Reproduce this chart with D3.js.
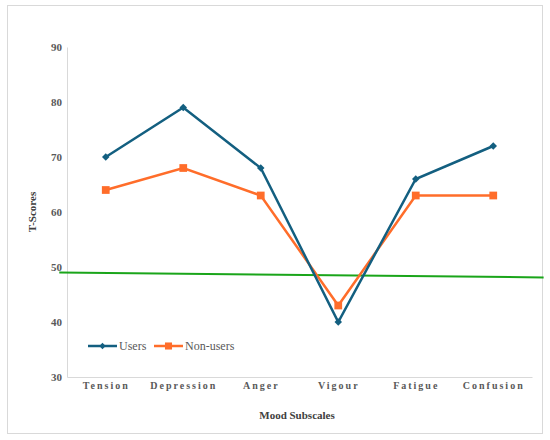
<!DOCTYPE html>
<html>
<head>
<meta charset="utf-8">
<script src="https://cdn.jsdelivr.net/npm/d3@7"></script>
<style>
  body { margin: 0; background: #fff; }
  svg text { font-family: "Liberation Serif", "DejaVu Serif", serif; }
</style>
</head>
<body>
<div id="chart"></div>
<script>
// data
const categories = ["Tension", "Depression", "Anger", "Vigour", "Fatigue", "Confusion"];
const users = [70, 79, 68, 40, 66, 72];
const nonUsers = [64, 68, 63, 43, 63, 63];
const yTicks = [30, 40, 50, 60, 70, 80, 90];
// green reference line: category index position -> T-score
const refPos = [-0.6, 5.65];
const refVal = [49.0, 48.1];

const W = 550, H = 440;
const margin = { top: 47, right: 18, bottom: 63, left: 67 };
const serif = "'Liberation Serif', 'DejaVu Serif', serif";

const svg = d3.select("#chart")
  .append("svg")
  .attr("width", W)
  .attr("height", H);

// outer frame
svg.append("rect")
  .attr("x", 7.5).attr("y", 5.5)
  .attr("width", 535).attr("height", 428)
  .attr("fill", "#fff")
  .attr("stroke", "#d9d9d9");

const x = d3.scalePoint()
  .domain(categories)
  .range([margin.left, W - margin.right])
  .padding(0.5);

const xi = d3.scaleLinear()
  .domain([0, categories.length - 1])
  .range([x(categories[0]), x(categories[categories.length - 1])]);

const y = d3.scaleLinear()
  .domain([30, 90])
  .range([H - margin.bottom, margin.top]);

// axes
const yAxis = svg.append("g")
  .attr("transform", `translate(${margin.left},0)`)
  .attr("font-family", serif)
  .call(d3.axisLeft(y).tickValues(yTicks).tickSize(0).tickPadding(5));
yAxis.attr("font-family", serif);
yAxis.select(".domain").attr("stroke", "#d9d9d9");
yAxis.selectAll("text")
  .attr("fill", "#595959")
  .style("font-size", "11px")
  .style("font-weight", "bold");

const xAxis = svg.append("g")
  .attr("transform", `translate(0,${H - margin.bottom})`)
  .call(d3.axisBottom(x).tickSize(0).tickPadding(5));
xAxis.attr("font-family", serif);
xAxis.select(".domain").attr("stroke", "#d9d9d9");
xAxis.selectAll("text")
  .attr("fill", "#595959")
  .style("font-size", "10px")
  .style("font-weight", "bold")
  .style("letter-spacing", "2px");

// axis titles
svg.append("text")
  .attr("x", 297)
  .attr("y", 419)
  .attr("text-anchor", "middle")
  .attr("font-family", serif)
  .attr("fill", "#404040")
  .style("font-size", "11px")
  .style("font-weight", "bold")
  .text("Mood Subscales");

svg.append("text")
  .attr("transform", `translate(36,${y(60)}) rotate(-90)`)
  .attr("text-anchor", "middle")
  .attr("font-family", serif)
  .attr("fill", "#404040")
  .style("font-size", "11px")
  .style("font-weight", "bold")
  .text("T-Scores");

// reference line
const refData = refPos.map((p, i) => ({ p, v: refVal[i] }));
svg.append("path")
  .datum(refData)
  .attr("fill", "none")
  .attr("stroke", "#1aa51a")
  .attr("stroke-width", 2)
  .attr("d", d3.line().x(d => xi(d.p)).y(d => y(d.v)));

const line = d3.line()
  .x((d, i) => x(categories[i]))
  .y(d => y(d));

const blue = "#135f80", orange = "#ff6d2a";

// Non-users
svg.append("path")
  .datum(nonUsers)
  .attr("fill", "none")
  .attr("stroke", orange)
  .attr("stroke-width", 2.5)
  .attr("d", line);
svg.selectAll(".sq")
  .data(nonUsers)
  .join("path")
  .attr("class", "sq")
  .attr("fill", orange)
  .attr("transform", (d, i) => `translate(${x(categories[i])},${y(d)})`)
  .attr("d", d3.symbol(d3.symbolSquare, 60));

// Users (diamonds = rotated squares)
svg.append("path")
  .datum(users)
  .attr("fill", "none")
  .attr("stroke", blue)
  .attr("stroke-width", 2.5)
  .attr("d", line);
svg.selectAll(".dm")
  .data(users)
  .join("path")
  .attr("class", "dm")
  .attr("fill", blue)
  .attr("transform", (d, i) => `translate(${x(categories[i])},${y(d)}) rotate(45)`)
  .attr("d", d3.symbol(d3.symbolSquare, 28));

// legend
const legend = [
  { name: "Users", color: blue, size: 20, rot: 45, lx: 88 },
  { name: "Non-users", color: orange, size: 50, rot: 0, lx: 154 }
];
const lg = svg.append("g").attr("transform", "translate(0,346)");
legend.forEach(d => {
  lg.append("line")
    .attr("x1", d.lx).attr("x2", d.lx + 29)
    .attr("stroke", d.color).attr("stroke-width", 2.5);
  lg.append("path")
    .attr("transform", `translate(${d.lx + 14.5},0) rotate(${d.rot})`)
    .attr("fill", d.color)
    .attr("d", d3.symbol(d3.symbolSquare, d.size));
  lg.append("text")
    .attr("x", d.lx + 31)
    .attr("y", 4)
    .attr("font-family", serif)
    .attr("fill", "#595959")
    .style("font-size", "12px")
    .text(d.name);
});
</script>
</body>
</html>
